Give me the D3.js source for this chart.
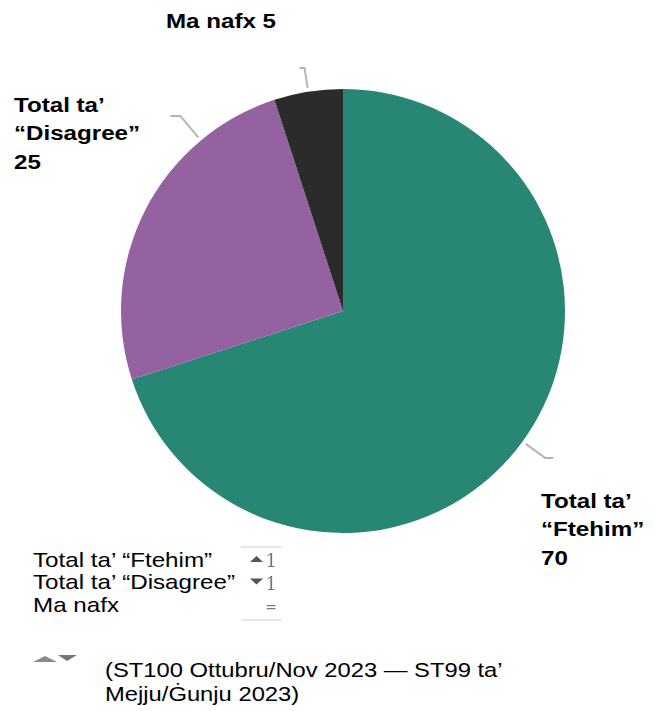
<!DOCTYPE html>
<html>
<head>
<meta charset="utf-8">
<script src="https://cdn.jsdelivr.net/npm/d3@7"></script>
<style>
  html, body { margin: 0; padding: 0; background: #fff; }
  svg { display: block; font-family: Arial, "Liberation Sans", sans-serif; }
</style>
</head>
<body>
<svg id="chart" width="659" height="711"></svg>
<script>
// Survey shares, in drawing order (clockwise from 12 o'clock)
const categories = ["Total ta’ “Ftehim”", "Total ta’ “Disagree”", "Ma nafx"];
const values = [70, 25, 5];
const colors = ["#288774", "#9462a0", "#2b2b2b"];
// Label lines for each slice (last line is the value)
const labelLines = [
  ["Total ta’", "“Ftehim”", "70"],
  ["Total ta’", "“Disagree”", "25"],
  ["Ma nafx 5"]
];
// Change since the previous wave, per legend row
const changeDir = ["up", "down", "same"];
const changeVal = ["1", "1", "="];
const footnote = ["(ST100 Ottubru/Nov 2023 — ST99 ta’", "Mejju/Ġunju 2023)"];

const svg = d3.select("#chart");
const defs = svg.append("defs");
defs.append("filter").attr("id", "soft")
  .append("feGaussianBlur").attr("stdDeviation", 0.7);

const cx = 343, cy = 311, r = 222;
const stretch = 1.15; // horizontal widening of the text faces

const pie = d3.pie().sort(null).value(d => d)(values);
const arc = d3.arc().innerRadius(0).outerRadius(r);

const g = svg.append("g").attr("transform", `translate(${cx},${cy})`);
g.selectAll("path.slice")
  .data(pie)
  .join("path")
  .attr("class", "slice")
  .attr("d", arc)
  .attr("fill", (d, i) => colors[i]);

// Leader lines: radial stroke out from the rim, then a small horizontal tick
const leaders = [
  { angle: d => (d.startAngle + d.endAngle) / 2, len: 24, tick: 8 },
  { angle: d => d.startAngle + 1.19, len: 28, tick: -10 },
  { angle: d => (d.startAngle + d.endAngle) / 2, len: 20, tick: -5 }
];
pie.forEach((d, i) => {
  const a = leaders[i].angle(d);
  const r0 = r + 4, r1 = r + 4 + leaders[i].len;
  const p0 = [Math.sin(a) * r0, -Math.cos(a) * r0];
  const p1 = [Math.sin(a) * r1, -Math.cos(a) * r1];
  const p2 = [p1[0] + leaders[i].tick, p1[1]];
  g.append("polyline")
    .attr("points", [p0, p1, p2].map(p => p.join(",")).join(" "))
    .attr("fill", "none")
    .attr("stroke", "#b4b4b4")
    .attr("stroke-width", 2)
    .attr("filter", "url(#soft)");
});

// Text block helper: lines stacked from a first baseline, widened horizontally
function textBlock(x, y, lines, size, weight, step, sx = stretch) {
  const t = svg.append("g")
    .attr("transform", `translate(${x},${y}) scale(${sx},1)`)
    .append("text")
    .attr("font-size", size)
    .attr("font-weight", weight)
    .attr("fill", "#000");
  lines.forEach((ln, j) => {
    t.append("tspan").attr("x", 0).attr("y", j * step).text(ln);
  });
  return t;
}

// Slice labels
const labelPos = [
  { x: 541, y: 508 },
  { x: 14, y: 112 },
  { x: 166, y: 28 }
];
labelLines.forEach((lines, i) => {
  textBlock(labelPos[i].x, labelPos[i].y, lines, 21, "bold", 28.5);
});

// Legend
textBlock(33, 567, categories, 20.5, "normal", 22.5, 1.18);

// Change markers column
const marks = svg.append("g").attr("filter", "url(#soft)");
marks.append("line").attr("x1", 241).attr("x2", 282).attr("y1", 547).attr("y2", 547)
  .attr("stroke", "#e6e6e6").attr("stroke-width", 2);
marks.append("line").attr("x1", 241).attr("x2", 282).attr("y1", 620).attr("y2", 620)
  .attr("stroke", "#e6e6e6").attr("stroke-width", 2);
changeDir.forEach((dir, i) => {
  const base = 567 + i * 22.5;
  if (dir === "up") {
    marks.append("path").attr("d", `M250,${base - 5} L256.5,${base - 11} L263,${base - 5} Z`).attr("fill", "#555");
  } else if (dir === "down") {
    marks.append("path").attr("d", `M250,${base - 11} L263,${base - 11} L256.5,${base - 5} Z`).attr("fill", "#555");
  }
  marks.append("text")
    .attr("x", 277)
    .attr("y", base)
    .attr("text-anchor", "end")
    .attr("font-size", dir === "same" ? 14 : 18)
    .attr("font-family", "DejaVu Serif, serif")
    .attr("fill", "#777")
    .text(changeVal[i]);
});

// Footnote icons (up / down)
const icons = svg.append("g").attr("filter", "url(#soft)");
icons.append("path").attr("d", "M33,662 L45,656 L57,662 Z").attr("fill", "#8a8a8a");
icons.append("path").attr("d", "M58,655 L77,655 L67,661 Z").attr("fill", "#777");

textBlock(105, 677, footnote, 20.5, "normal", 24.5, 1.16);
</script>
</body>
</html>
